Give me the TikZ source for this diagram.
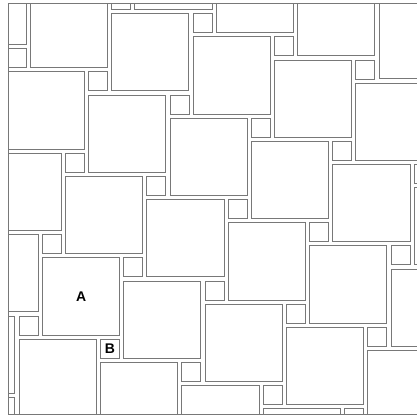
\documentclass[tikz,border=0pt]{standalone}
\usepackage{fontspec}
\setsansfont{Liberation Sans}
\definecolor{tilegray}{RGB}{120,120,120}
\begin{document}
\begin{tikzpicture}[x=1pt, y=-1pt,
    tile/.style={draw=tilegray, line width=0.9pt},
    frame/.style={draw=tilegray, line width=1pt},
    letter/.style={font=\sffamily\bfseries\fontsize{14}{16}\selectfont, inner sep=0pt}
  ]
  \useasboundingbox (0,0) rectangle (417,416);
  % squares of the two sizes, repeated along two lattice directions
  \begin{scope}
    \clip (8.7,3) rectangle (417,414.3);
    \foreach \i in {-3,...,5} {
      \foreach \j in {-5,...,2} {
        \pgfmathsetmacro{\px}{42.2+81.4*\i-23.18*\j}
        \pgfmathsetmacro{\py}{257.8+23.18*\i+81.4*\j}
        \draw[tile] (\px,\py) rectangle ++(77.2,77.2);
        \draw[tile] (\px+81.4,\py) rectangle ++(19,19);
      }
    }
  \end{scope}
  \draw[frame] (417,3) -- (8.7,3) -- (8.7,414.3) -- (417,414.3);
  \node[letter] (labelA) at (81.2,296.4) {A};
  \node[letter] (labelB) at (109.9,348.7) {B};
\end{tikzpicture}
\end{document}
